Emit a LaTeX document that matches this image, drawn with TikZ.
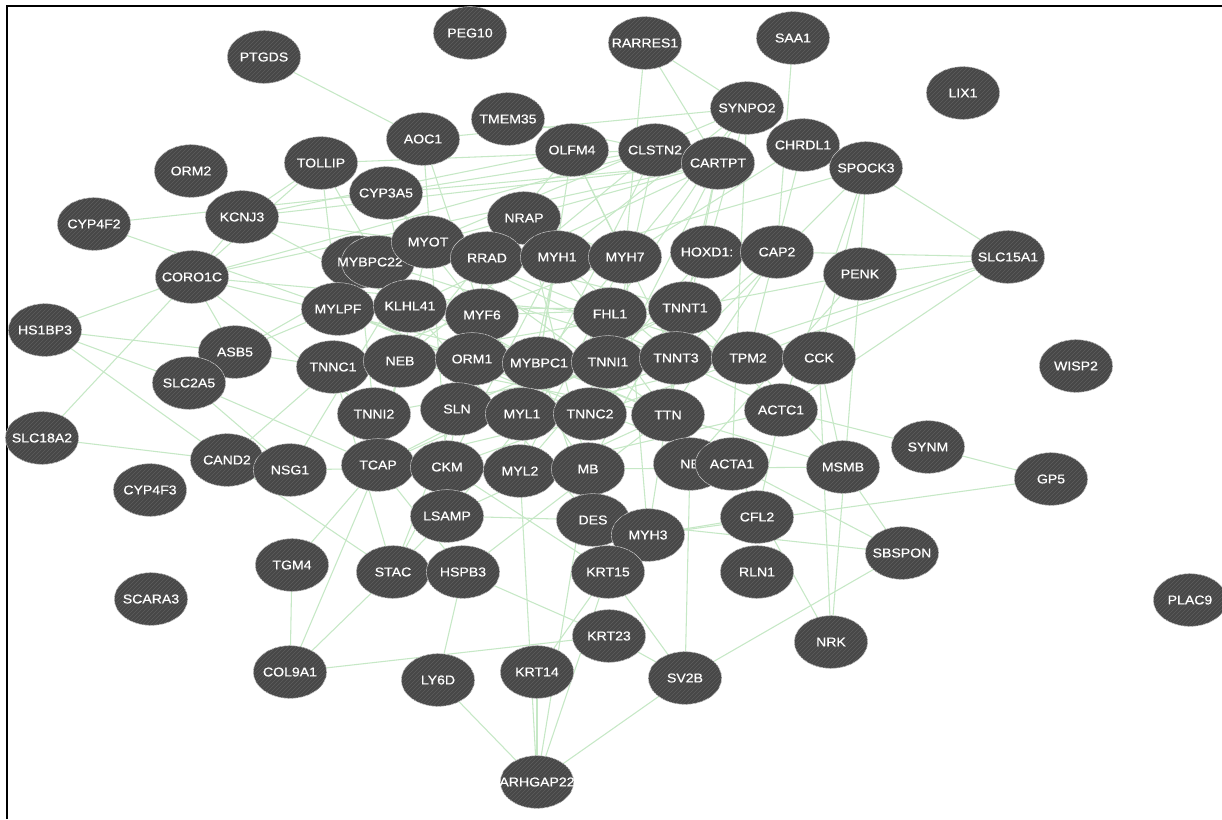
\documentclass[tikz,border=0pt]{standalone}
\usepackage{fontspec}
\newfontfamily\genefont[FakeStretch=1.1,FakeBold=0.6]{Liberation Sans}
\usetikzlibrary{shapes.geometric,patterns}
\pgfdeclarelayer{background}
\pgfdeclarelayer{canvas}
\pgfsetlayers{canvas,background,main}
\definecolor{nodegray}{HTML}{474747}
\definecolor{stripe}{HTML}{5E5E5E}
\definecolor{edgegreen}{HTML}{C6E8C6}
\newcommand{\gn}[4]{\node[gene, label={[gtext]center:#4}] (#1) at (#2,#3) {};}
\begin{document}
\begin{tikzpicture}[x=0.75pt,y=-0.75pt,
  gene/.style={ellipse, minimum width=55pt, minimum height=39.5pt, inner sep=0pt,
    fill=nodegray, draw=gray!40, line width=0.4pt,
    postaction={pattern=north east lines, pattern color=stripe}},
  gtext/.style={text=white, font=\genefont\fontsize{9.6}{10}\selectfont, inner sep=0pt},
  link/.style={draw=edgegreen, line width=0.8pt},
]
\useasboundingbox (0,0) rectangle (1222,819);
\begin{pgfonlayer}{canvas}
\fill[white] (0,0) rectangle (1222,819);
\end{pgfonlayer}
\draw[line width=1.5pt] (7,819) -- (7,6) -- (1222,6);

\gn{PEG10}{470}{33}{PEG10}
\gn{PTGDS}{264}{57}{PTGDS}
\gn{RARRES1}{645}{43}{RARRES1}
\gn{SAA1}{793}{38}{SAA1}
\gn{LIX1}{963}{93}{LIX1}
\gn{SYNPO2}{747}{108}{SYNPO2}
\gn{TMEM35}{508}{119}{TMEM35}
\gn{AOC1}{423}{139}{AOC1}
\gn{OLFM4}{572}{150}{OLFM4}
\gn{CLSTN2}{655}{150}{CLSTN2}
\gn{CARTPT}{718}{163}{CARTPT}
\gn{CHRDL1}{803}{145}{CHRDL1}
\gn{SPOCK3}{866}{168}{SPOCK3}
\gn{ORM2}{191}{171}{ORM2}
\gn{TOLLIP}{321}{163}{TOLLIP}
\gn{CYP3A5}{386}{193}{CYP3A5}
\gn{KCNJ3}{242}{217}{KCNJ3}
\gn{CYP4F2}{94}{224}{CYP4F2}
\gn{NRAP}{524}{218}{NRAP}
\node[gene] (MYBPCa) at (358,262) {};
\node[gene, label={[gtext,xshift=-6pt]center:MYBPC22}] (MYBPCb) at (378,262) {};
\gn{MYOT}{428}{242}{MYOT}
\gn{RRAD}{487}{258}{RRAD}
\gn{MYH1}{557}{257}{MYH1}
\gn{MYH7}{625}{257}{MYH7}
\gn{HOXD}{707}{252}{HOXD1:}
\gn{CAP2}{777}{252}{CAP2}
\gn{SLC15A1}{1008}{257}{SLC15A1}
\gn{PENK}{860}{274}{PENK}
\gn{CORO1C}{192}{277}{CORO1C}
\gn{HS1BP3}{45}{330}{HS1BP3}
\gn{MYLPF}{338}{309}{MYLPF}
\gn{KLHL41}{410}{306}{KLHL41}
\gn{MYF6}{482}{315}{MYF6}
\gn{FHL1}{610}{314}{FHL1}
\gn{TNNT1}{685}{308}{TNNT1}
\gn{ASB5}{235}{352}{ASB5}
\gn{SLC2A5}{189}{383}{SLC2A5}
\gn{TNNC1}{333}{367}{TNNC1}
\gn{NEB}{400}{361}{NEB}
\gn{ORM1}{472}{359}{ORM1}
\gn{MYBPC1}{539}{363}{MYBPC1}
\gn{TNNI1}{608}{362}{TNNI1}
\gn{TNNT3}{676}{358}{TNNT3}
\gn{TPM2}{748}{358}{TPM2}
\gn{CCK}{819}{358}{CCK}
\gn{WISP2}{1076}{366}{WISP2}
\gn{TNNI2}{374}{414}{TNNI2}
\gn{SLN}{457}{409}{SLN}
\gn{MYL1}{522}{414}{MYL1}
\gn{TNNC2}{590}{414}{TNNC2}
\gn{TTN}{668}{415}{TTN}
\gn{ACTC1}{781}{410}{ACTC1}
\gn{SLC18A2}{42}{438}{SLC18A2}
\gn{CAND2}{227}{460}{CAND2}
\gn{NSG1}{290}{470}{NSG1}
\gn{TCAP}{378}{465}{TCAP}
\gn{CKM}{447}{467}{CKM}
\gn{MYL2}{520}{471}{MYL2}
\gn{MB}{588}{469}{MB}
\gn{NE}{690}{464}{NE}
\gn{ACTA1}{732}{464}{ACTA1}
\gn{MSMB}{843}{467}{MSMB}
\gn{SYNM}{928}{447}{SYNM}
\gn{GP5}{1051}{479}{GP5}
\gn{CYP4F3}{150}{490}{CYP4F3}
\gn{LSAMP}{447}{516}{LSAMP}
\gn{DES}{593}{520}{DES}
\gn{MYH3}{648}{535}{MYH3}
\gn{CFL2}{757}{517}{CFL2}
\gn{SBSPON}{902}{553}{SBSPON}
\gn{TGM4}{292}{565}{TGM4}
\gn{STAC}{393}{572}{STAC}
\gn{HSPB3}{463}{572}{HSPB3}
\gn{KRT15}{608}{572}{KRT15}
\gn{RLN1}{757}{572}{RLN1}
\gn{SCARA3}{151}{599}{SCARA3}
\gn{PLAC9}{1190}{600}{PLAC9}
\gn{KRT23}{609}{636}{KRT23}
\gn{NRK}{831}{642}{NRK}
\gn{COL9A1}{290}{672}{COL9A1}
\gn{LY6D}{438}{680}{LY6D}
\gn{KRT14}{537}{672}{KRT14}
\gn{SV2B}{685}{678}{SV2B}
\gn{ARHGAP22}{537}{782}{ARHGAP22}

\begin{pgfonlayer}{background}
\foreach \a/\b in {PTGDS/AOC1, CYP4F2/CYP3A5, CYP4F2/MYLPF, KCNJ3/TOLLIP, KCNJ3/OLFM4,
 KCNJ3/MYOT, KCNJ3/KLHL41, KCNJ3/CARTPT, KCNJ3/CORO1C, TOLLIP/CLSTN2, TOLLIP/MYBPCb,
 TOLLIP/MYLPF, TOLLIP/CORO1C, CYP3A5/CARTPT, CYP3A5/MYOT, CYP3A5/MYF6, CYP3A5/CLSTN2,
 CYP3A5/KLHL41, AOC1/MYF6, AOC1/CKM, AOC1/SYNPO2, TMEM35/CLSTN2, OLFM4/MYBPC1,
 OLFM4/TNNT3, OLFM4/NEB, OLFM4/MYH7, CLSTN2/TNNI1, CLSTN2/MYL1, CLSTN2/NEB,
 CLSTN2/CORO1C, CARTPT/TNNC2, CARTPT/TTN, CARTPT/TNNT1, CARTPT/MYBPCa, CARTPT/KLHL41,
 CARTPT/CORO1C, SYNPO2/MYH1, SYNPO2/MYOT, SYNPO2/MYBPC1, SYNPO2/FHL1, SYNPO2/ACTA1,
 SYNPO2/HOXD, RARRES1/SYNPO2, RARRES1/CARTPT, RARRES1/MYH7, SAA1/CAP2, CHRDL1/TPM2,
 CHRDL1/MYH7, SPOCK3/PENK, SPOCK3/CCK, SPOCK3/SLC15A1, SPOCK3/ACTC1, SPOCK3/TNNT3,
 SPOCK3/MYH1, CAP2/TTN, CAP2/TNNC2, CAP2/SLC15A1, HOXD/MB, HOXD/MYL2, PENK/SLC15A1,
 PENK/NE, PENK/TNNT1, SLC15A1/TPM2, SLC15A1/ACTC1, SLC15A1/MYL1, CORO1C/HS1BP3,
 CORO1C/ASB5, CORO1C/SLC18A2, CORO1C/MYBPC1, CORO1C/TNNI2, CORO1C/FHL1, HS1BP3/ASB5,
 HS1BP3/SLC2A5, HS1BP3/CAND2, SLC2A5/NSG1, SLC2A5/TCAP, ASB5/TNNC1, ASB5/MYLPF,
 ASB5/MYOT, SLC18A2/CAND2, CAND2/STAC, CAND2/TNNC1, NSG1/CKM, NSG1/MYOT, MYLPF/TNNT1,
 MYLPF/TNNC2, MYLPF/ACTA1, KLHL41/TTN, KLHL41/DES, MYOT/TTN, MYOT/FHL1, MYOT/TCAP,
 MYOT/ACTC1, MYBPCa/MYBPC1, MYBPCa/TNNI2, MYBPCb/TNNT3, RRAD/TNNT1, RRAD/CKM,
 NRAP/TTN, NRAP/MYH7, NRAP/MB, MYH1/MYL1, MYH1/MYL2, MYH1/TNNT3, MYH1/STAC, MYH7/MYL2,
 MYH7/TNNC1, MYH7/MYH3, MYF6/TNNT1, MYF6/MB, FHL1/TPM2, FHL1/LSAMP, TNNT1/TNNC1,
 TNNT1/TCAP, TNNT1/ACTC1, TNNC1/TNNI1, TNNC1/STAC, NEB/TTN, NEB/TCAP, ORM1/TPM2,
 MYBPC1/TTN, MYBPC1/DES, TNNI1/TCAP, TNNT3/TTN, TNNT3/MYH3, TPM2/CKM, TPM2/MSMB,
 CCK/MSMB, CCK/NRK, PENK/NRK, ACTC1/SYNM, ACTC1/MYL2, ACTC1/CFL2, TNNI2/TNNT3,
 SLN/TNNT1, SLN/STAC, MYL1/TPM2, TNNC2/TCAP, TTN/LSAMP, TTN/HSPB3, TTN/MSMB,
 TCAP/HSPB3, TCAP/COL9A1, CKM/KRT15, MYL2/ARHGAP22, MB/ARHGAP22, MB/MSMB, NE/SV2B,
 ACTA1/SBSPON, ACTA1/NRK, MSMB/SBSPON, SYNM/GP5, GP5/MYH3, LSAMP/STAC, LSAMP/DES,
 DES/KRT15, DES/SBSPON, MYH3/CFL2, TGM4/COL9A1, TGM4/TCAP, COL9A1/STAC, COL9A1/KRT23,
 HSPB3/LY6D, HSPB3/KRT23, KRT15/SV2B, KRT23/SV2B, KRT14/KRT15, KRT14/ARHGAP22,
 LY6D/ARHGAP22, ARHGAP22/SV2B, ARHGAP22/KRT15, SV2B/SBSPON}
  \draw[link] (\a.center) -- (\b.center);
\end{pgfonlayer}
\end{tikzpicture}
\end{document}
